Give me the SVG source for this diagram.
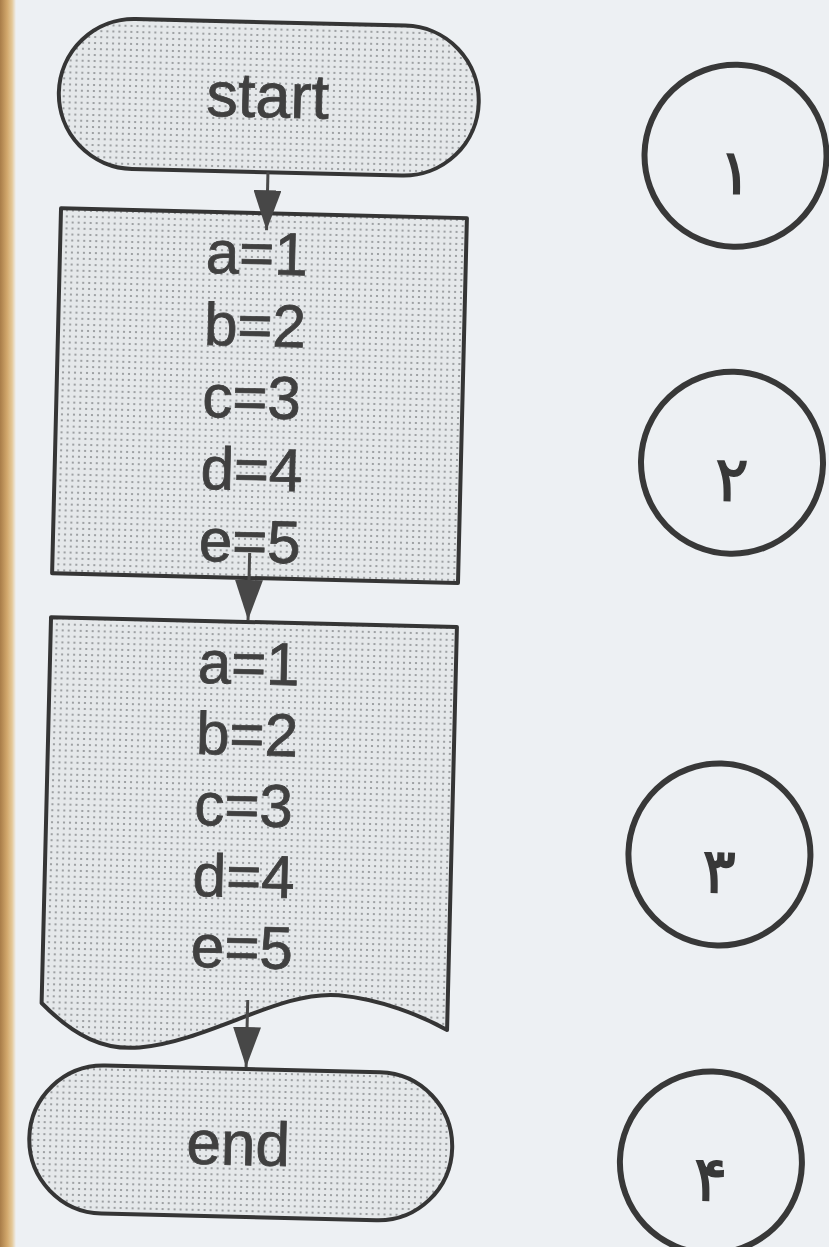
<svg xmlns="http://www.w3.org/2000/svg" width="829" height="1247" viewBox="0 0 829 1247">
<defs>
<linearGradient id="strip" x1="0" y1="0" x2="1" y2="0">
<stop offset="0" stop-color="#a87c48"/>
<stop offset="0.45" stop-color="#d2a86c"/>
<stop offset="0.75" stop-color="#e4c898"/>
<stop offset="1" stop-color="#eef0f2"/>
</linearGradient>
<pattern id="dots" width="6" height="6" patternUnits="userSpaceOnUse">
<rect width="6" height="6" fill="#e5e8ea"/>
<circle cx="3" cy="3" r="1.1" fill="#8c8f92"/>
</pattern>
<marker id="head" markerUnits="userSpaceOnUse" markerWidth="40" markerHeight="28" viewBox="0 0 40 28" refX="40" refY="14" orient="auto">
<path d="M0,0 L40,14 L0,28 Z" fill="#474747"/>
</marker>
<style>
.shape{fill:url(#dots);stroke:#353535;stroke-width:4;stroke-linejoin:round}
.ring{fill:none;stroke:#383838;stroke-width:6}
.lbl{font-family:"Liberation Sans",Arial,sans-serif;font-size:60px;fill:#404040;stroke:#404040;stroke-width:0.8}
.num{font-family:"DejaVu Sans",sans-serif;font-size:62px;fill:#383838;stroke:#383838;stroke-width:1.6;text-anchor:middle}
.conn{stroke:#4a4a4a;stroke-width:3;fill:none;marker-end:url(#head)}
</style>
</defs>
<rect width="829" height="1247" fill="#edf0f3"/>
<rect x="0" y="0" width="16" height="1247" fill="url(#strip)"/>
<g transform="rotate(1.4 414 623)">
<g id="start">
<rect class="shape" x="46" y="26" width="420" height="150" rx="75"/>
<text class="lbl" x="255" y="121" text-anchor="middle" style="font-size:63px">start</text>
</g>
<g id="box1">
<rect class="shape" x="51" y="217" width="406" height="365"/>
<text class="lbl" x="197" y="278">a=1</text>
<text class="lbl" x="197" y="350">b=2</text>
<text class="lbl" x="197" y="422">c=3</text>
<text class="lbl" x="197" y="494">d=4</text>
<text class="lbl" x="197" y="566">e=5</text>
</g>
<g id="box2">
<path class="shape" d="M51,626 H457 V1029 C430,1015 390,1000 348,997 C290,993 220,1046 150,1054 C115,1058 85,1045 51,1012 Z"/>
<text class="lbl" x="199" y="688">a=1</text>
<text class="lbl" x="199" y="759">b=2</text>
<text class="lbl" x="199" y="830">c=3</text>
<text class="lbl" x="199" y="901">d=4</text>
<text class="lbl" x="199" y="972">e=5</text>
</g>
<g id="end">
<rect class="shape" x="42" y="1073" width="423" height="148" rx="74"/>
<text class="lbl" x="251" y="1169" text-anchor="middle" style="font-size:62px">end</text>
</g>
<g id="connectors">
<line class="conn" x1="257" y1="176" x2="257" y2="234"/>
<line class="conn" x1="248" y1="557" x2="248" y2="624"/>
<line class="conn" x1="257" y1="1004" x2="257" y2="1071"/>
</g>
<g id="c1">
<circle class="ring" cx="724" cy="148" r="91"/>
<text class="num" x="724" y="186">۱</text>
</g>
<g id="c2">
<circle class="ring" cx="728" cy="455" r="91"/>
<text class="num" x="728" y="493">۲</text>
</g>
<g id="c3">
<circle class="ring" cx="725" cy="847" r="91"/>
<text class="num" x="725" y="885">۳</text>
</g>
<g id="c4">
<circle class="ring" cx="724" cy="1155" r="91"/>
<text class="num" x="724" y="1193">۴</text>
</g>
</g>
</svg>
